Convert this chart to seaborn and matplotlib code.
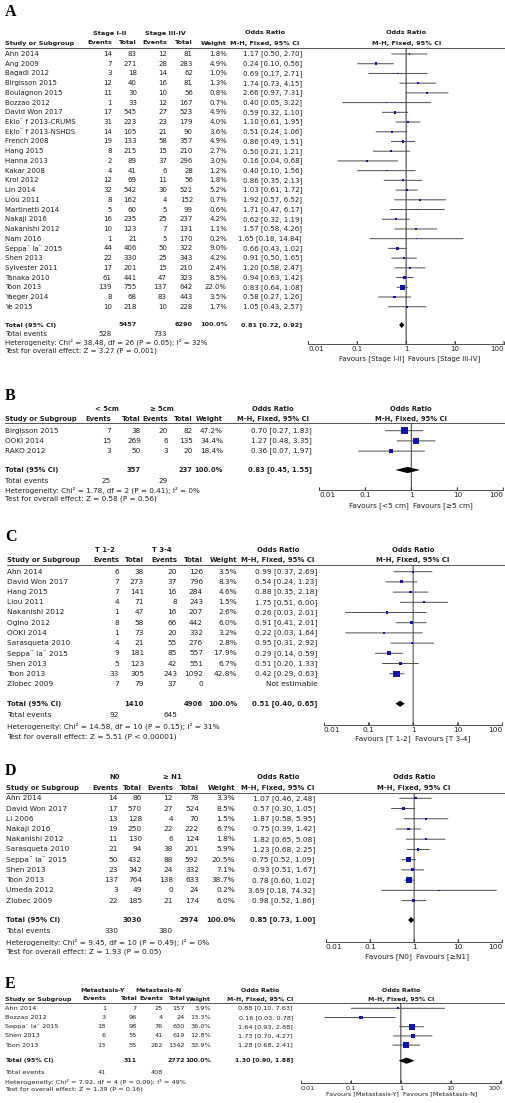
import numpy as np
import pandas as pd
import matplotlib
matplotlib.use("Agg")
import matplotlib.pyplot as plt
from matplotlib.ticker import FixedLocator, FixedFormatter, NullLocator
import seaborn as sns

sns.set_style("white")
plt.rcParams['font.family'] = ['DejaVu Sans']

W, H = 506, 1103

# ------------------------------------------------------------------ data
# Panel A : Stage I-II vs Stage III-IV
A_studies = ["Ahn 2014", "Ang 2009", "Bagadi 2012", "Birgisson 2015", "Boulagnon 2015",
             "Bozzao 2012", "David Won 2017", "Eklo\u00a8 f 2013-CRUMS", "Eklo\u00a8 f 2013-NSHDS",
             "French 2008", "Hang 2015", "Hanna 2013", "Kakar 2008", "Krol 2012", "Lin 2014",
             "Liou 2011", "Martinetti 2014", "Nakaji 2016", "Nakanishi 2012", "Nam 2016",
             "Seppa\u00a8 la\u00a8 2015", "Shen 2013", "Sylvester 2011", "Tanaka 2010", "Toon 2013",
             "Yaeger 2014", "Ye 2015"]
A_ev1 = [14, 7, 3, 12, 11, 1, 17, 31, 14, 19, 8, 2, 4, 12, 32, 8, 5, 16, 10, 1, 44, 22, 17, 61, 139, 8, 10]
A_tot1 = [83, 271, 18, 40, 30, 33, 545, 223, 105, 133, 215, 89, 41, 69, 542, 162, 60, 235, 123, 21, 406, 330, 201, 441, 755, 68, 218]
A_ev2 = [12, 28, 14, 16, 10, 12, 27, 23, 21, 58, 15, 37, 6, 11, 30, 4, 5, 25, 7, 5, 50, 25, 15, 47, 137, 83, 10]
A_tot2 = [81, 283, 62, 81, 56, 167, 523, 179, 90, 357, 210, 296, 28, 56, 521, 152, 99, 237, 131, 170, 322, 343, 210, 323, 642, 443, 228]
A_weight = [1.8, 4.9, 1.0, 1.3, 0.8, 0.7, 4.9, 4.0, 3.6, 4.9, 2.7, 3.0, 1.2, 1.8, 5.2, 0.7, 0.6, 4.2, 1.1, 0.2, 9.0, 4.2, 2.4, 8.5, 22.0, 3.5, 1.7]
A_or = [1.17, 0.24, 0.69, 1.74, 2.66, 0.40, 0.59, 1.10, 0.51, 0.86, 0.50, 0.16, 0.40, 0.86, 1.03, 1.92, 1.71, 0.62, 1.57, 1.65, 0.66, 0.91, 1.20, 0.94, 0.83, 0.58, 1.05]
A_lo = [0.50, 0.10, 0.17, 0.73, 0.97, 0.05, 0.32, 0.61, 0.24, 0.49, 0.21, 0.04, 0.10, 0.35, 0.61, 0.57, 0.47, 0.32, 0.58, 0.18, 0.43, 0.50, 0.58, 0.63, 0.64, 0.27, 0.43]
A_hi = [2.70, 0.56, 2.71, 4.15, 7.31, 3.22, 1.10, 1.95, 1.06, 1.51, 1.21, 0.68, 1.56, 2.13, 1.72, 6.52, 6.17, 1.19, 4.26, 14.84, 1.02, 1.65, 2.47, 1.42, 1.08, 1.26, 2.57]
A_groups = ["Stage I-II", "Stage III-IV"]
A_total_n = [5457, 6290]
A_total_or = [0.81, 0.72, 0.92]
A_total_events = [528, 733]
A_het = "Heterogeneity: Chi\u00b2 = 38.48, df = 26 (P = 0.05); I\u00b2 = 32%"
A_test = "Test for overall effect: Z = 3.27 (P = 0.001)"
A_favours = ["Favours [Stage I-II]", "Favours [Stage III-IV]"]

# Panel B : < 5cm vs >= 5cm
B_studies = ["Birgisson 2015", "OOKI 2014", "RAKO 2012"]
B_ev1 = [7, 15, 3]
B_tot1 = [38, 269, 50]
B_ev2 = [20, 6, 3]
B_tot2 = [82, 135, 20]
B_weight = [47.2, 34.4, 18.4]
B_or = [0.70, 1.27, 0.36]
B_lo = [0.27, 0.48, 0.07]
B_hi = [1.83, 3.35, 1.97]
B_groups = ["< 5cm", "\u2265 5cm"]
B_total_n = [357, 237]
B_total_or = [0.83, 0.45, 1.55]
B_total_events = [25, 29]
B_het = "Heterogeneity: Chi\u00b2 = 1.78, df = 2 (P = 0.41); I\u00b2 = 0%"
B_test = "Test for overall effect: Z = 0.58 (P = 0.56)"
B_favours = ["Favours [<5 cm]", "Favours [\u22655 cm]"]

# Panel C : T 1-2 vs T 3-4
C_studies = ["Ahn 2014", "David Won 2017", "Hang 2015", "Liou 2011", "Nakanishi 2012", "Ogino 2012",
             "OOKI 2014", "Sarasqueta 2010", "Seppa\u00a8 la\u00a8 2015", "Shen 2013", "Toon 2013", "Zlobec 2009"]
C_ev1 = [6, 7, 7, 4, 1, 8, 1, 4, 9, 5, 33, 7]
C_tot1 = [38, 273, 141, 71, 47, 58, 73, 21, 181, 123, 305, 79]
C_ev2 = [20, 37, 16, 8, 16, 66, 20, 55, 85, 42, 243, 37]
C_tot2 = [126, 796, 284, 243, 207, 442, 332, 276, 557, 551, 1092, 0]
C_weight = [3.5, 8.3, 4.6, 1.5, 2.6, 6.0, 3.2, 2.8, 17.9, 6.7, 42.8, np.nan]
C_or = [0.99, 0.54, 0.88, 1.75, 0.26, 0.91, 0.22, 0.95, 0.29, 0.51, 0.42, np.nan]
C_lo = [0.37, 0.24, 0.35, 0.51, 0.03, 0.41, 0.03, 0.31, 0.14, 0.20, 0.29, np.nan]
C_hi = [2.69, 1.23, 2.18, 6.00, 2.01, 2.01, 1.64, 2.92, 0.59, 1.33, 0.63, np.nan]
C_groups = ["T 1-2", "T 3-4"]
C_total_n = [1410, 4906]
C_total_or = [0.51, 0.40, 0.65]
C_total_events = [92, 645]
C_het = "Heterogeneity: Chi\u00b2 = 14.58, df = 10 (P = 0.15); I\u00b2 = 31%"
C_test = "Test for overall effect: Z = 5.51 (P < 0.00001)"
C_favours = ["Favours [T 1-2]", "Favours [T 3-4]"]

# Panel D : N0 vs >= N1
D_studies = ["Ahn 2014", "David Won 2017", "Li 2006", "Nakaji 2016", "Nakanishi 2012", "Sarasqueta 2010",
             "Seppa\u00a8 la\u00a8 2015", "Shen 2013", "Toon 2013", "Umeda 2012", "Zlobec 2009"]
D_ev1 = [14, 17, 13, 19, 11, 21, 50, 23, 137, 3, 22]
D_tot1 = [86, 570, 128, 250, 130, 94, 432, 342, 764, 49, 185]
D_ev2 = [12, 27, 4, 22, 6, 38, 88, 24, 138, 0, 21]
D_tot2 = [78, 524, 70, 222, 124, 201, 592, 332, 633, 24, 174]
D_weight = [3.3, 8.5, 1.5, 6.7, 1.8, 5.9, 20.5, 7.1, 38.7, 0.2, 6.0]
D_or = [1.07, 0.57, 1.87, 0.75, 1.82, 1.23, 0.75, 0.93, 0.78, 3.69, 0.98]
D_lo = [0.46, 0.30, 0.58, 0.39, 0.65, 0.68, 0.52, 0.51, 0.60, 0.18, 0.52]
D_hi = [2.48, 1.05, 5.95, 1.42, 5.08, 2.25, 1.09, 1.67, 1.02, 74.32, 1.86]
D_groups = ["N0", "\u2265 N1"]
D_total_n = [3030, 2974]
D_total_or = [0.85, 0.73, 1.00]
D_total_events = [330, 380]
D_het = "Heterogeneity: Chi\u00b2 = 9.45, df = 10 (P = 0.49); I\u00b2 = 0%"
D_test = "Test for overall effect: Z = 1.93 (P = 0.05)"
D_favours = ["Favours [N0]", "Favours [\u2265N1]"]

# Panel E : Metastasis-Y vs Metastasis-N
E_studies = ["Ahn 2014", "Bozzao 2012", "Seppa\u00a8 la\u00a8 2015", "Shen 2013", "Toon 2013"]
E_ev1 = [1, 3, 18, 6, 13]
E_tot1 = [7, 96, 98, 55, 55]
E_ev2 = [25, 4, 76, 41, 262]
E_tot2 = [157, 24, 630, 619, 1342]
E_weight = [3.9, 13.3, 36.0, 12.8, 33.9]
E_or = [0.88, 0.16, 1.64, 1.73, 1.28]
E_lo = [0.10, 0.03, 0.93, 0.70, 0.68]
E_hi = [7.63, 0.78, 2.88, 4.27, 2.41]
E_groups = ["Metastasis-Y", "Metastasis-N"]
E_total_n = [311, 2772]
E_total_or = [1.30, 0.90, 1.88]
E_total_events = [41, 408]
E_het = "Heterogeneity: Chi\u00b2 = 7.92, df = 4 (P = 0.09); I\u00b2 = 49%"
E_test = "Test for overall effect: Z = 1.39 (P = 0.16)"
E_favours = ["Favours [Metastasis-Y]", "Favours [Metastasis-N]"]

tick_vals = [0.01, 0.1, 1, 10, 100]
tick_labels = ["0.01", "0.1", "1", "10", "100"]

# ------------------------------------------------------------------ layout (pixels)
LAYOUT = {
    'A': dict(lab=12, h1=33, h2=43, line=48, row0=54, dy=9.72, total=325, tev=333.5, het=342.5,
              test=350.5, axis=343.5, fav=358.5, xt=5, ev1=112, tot1=137, ev2=167, tot2=193,
              wt=227, orr=302, orc=265, g1=110, g2=165, x0=308.3, x1=504, fs=5.0, bf=0.93),
    'B': dict(lab=396, h1=409, h2=419.3, line=423.3, row0=430.7, dy=10.2, total=470, tev=481,
              het=490, test=498.7, axis=490, fav=506, xt=5, ev1=111, tot1=141, ev2=168, tot2=193,
              wt=223, orr=312, orc=273, g1=107, g2=162, x0=319.3, x1=503.3, fs=5.2, bf=0.93),
    'C': dict(lab=537, h1=550, h2=560, line=565, row0=571.7, dy=10.2, total=703.7, tev=715,
              het=726.7, test=736.7, axis=725, fav=738.3, xt=7, ev1=119, tot1=144, ev2=177,
              tot2=203, wt=237, orr=317.7, orc=278, g1=105, g2=162, x0=324, x1=502.3, fs=5.3, bf=0.93),
    'D': dict(lab=771, h1=777, h2=788.3, line=793.3, row0=798.3, dy=10.23, total=920, tev=931.3,
              het=942, test=952, axis=941.7, fav=956.7, xt=6, ev1=118, tot1=142, ev2=173,
              tot2=199, wt=235, orr=315, orc=278, g1=115, g2=172, x0=326, x1=502.3, fs=5.3, bf=0.93),
    'E': dict(lab=984, h1=990, h2=999, line=1003.3, row0=1008.3, dy=9.2, total=1060.7, tev=1072.7,
              het=1082.3, test=1090, axis=1083.3, fav=1094, xt=5, ev1=106, tot1=137, ev2=163,
              tot2=185, wt=211, orr=293, orc=260, g1=103, g2=159, x0=301, x1=500.7, fs=4.65, bf=0.97),
}

TXT = '#1e1e1e'
LINE = '#555555'
BLUE = '#1414a0'

fig = plt.figure(figsize=(W / 100, H / 100), dpi=100)
ov = fig.add_axes([0, 0, 1, 1])
ov.set_xlim(0, W)
ov.set_ylim(H, 0)
ov.axis('off')


def t(x, y, s, ha='left', bold=False, fs=5.0, bf=0.93, **kw):
    ov.text(x, y, s, ha=ha, va='center', fontsize=fs * (bf if bold else 1.0), color=TXT,
            fontweight='bold' if bold else 'normal', **kw)


def fmt_or(o, l, h):
    return f"{o:.2f} [{l:.2f}, {h:.2f}]"


def draw_panel(key, studies, ev1, tot1, ev2, tot2, weight, orv, lo, hi,
               groups, total_n, total_or, total_events, het, test, favours):
    L = LAYOUT[key]
    fs = L['fs']
    bf = L['bf']
    pc = (L['x0'] + L['x1']) / 2
    # panel letter
    ov.text(5, L['lab'], key, ha='left', va='center', fontsize=11.5, fontweight='bold',
            family='Liberation Serif', color='black')
    # headers
    t(L['g1'], L['h1'], groups[0], 'center', True, fs, bf)
    t(L['g2'], L['h1'], groups[1], 'center', True, fs, bf)
    t(L['orc'], L['h1'], "Odds Ratio", 'center', True, fs, bf)
    t(pc, L['h1'], "Odds Ratio", 'center', True, fs, bf)
    t(L['xt'], L['h2'], "Study or Subgroup", 'left', True, fs, bf)
    for col, lab in [('ev1', 'Events'), ('tot1', 'Total'), ('ev2', 'Events'),
                     ('tot2', 'Total'), ('wt', 'Weight')]:
        t(L[col], L['h2'], lab, 'right', True, fs, bf)
    t(L['orc'], L['h2'], "M-H, Fixed, 95% CI", 'center', True, fs, bf)
    t(pc, L['h2'], "M-H, Fixed, 95% CI", 'center', True, fs, bf)
    ov.plot([L['xt'], W], [L['line'], L['line']], color=LINE, lw=0.7)

    ys = [L['row0'] + i * L['dy'] for i in range(len(studies))]
    for i, y in enumerate(ys):
        t(L['xt'], y, studies[i], 'left', False, fs)
        t(L['ev1'], y, str(ev1[i]), 'right', False, fs)
        t(L['tot1'], y, str(tot1[i]), 'right', False, fs)
        t(L['ev2'], y, str(ev2[i]), 'right', False, fs)
        t(L['tot2'], y, str(tot2[i]), 'right', False, fs)
        if np.isnan(orv[i]):
            t(L['orr'], y, "Not estimable", 'right', False, fs)
        else:
            t(L['wt'], y, f"{weight[i]:.1f}%", 'right', False, fs)
            t(L['orr'], y, fmt_or(orv[i], lo[i], hi[i]), 'right', False, fs)
    # totals
    t(L['xt'], L['total'], "Total (95% CI)", 'left', True, fs, bf)
    t(L['tot1'], L['total'], str(total_n[0]), 'right', True, fs, bf)
    t(L['tot2'], L['total'], str(total_n[1]), 'right', True, fs, bf)
    t(L['wt'], L['total'], "100.0%", 'right', True, fs, bf)
    t(L['orr'], L['total'], fmt_or(*total_or), 'right', True, fs, bf)
    t(L['xt'], L['tev'], "Total events", 'left', False, fs)
    t(L['ev1'], L['tev'], str(total_events[0]), 'right', False, fs)
    t(L['ev2'], L['tev'], str(total_events[1]), 'right', False, fs)
    t(L['xt'], L['het'], het, 'left', False, fs)
    t(L['xt'], L['test'], test, 'left', False, fs)

    # forest axes: y data == pixel rows, x on the library's log scale
    ax = fig.add_axes([L['x0'] / W, 1 - L['axis'] / H, (L['x1'] - L['x0']) / W,
                       (L['axis'] - L['line']) / H])
    ax.patch.set_alpha(0)
    ax.set_xscale('log')
    df = pd.DataFrame({'OR': orv, 'lo': lo, 'hi': hi, 'y': ys, 'w': weight}).dropna()
    # line of no effect
    ax.axvspan(1 / 1.024, 1.024, color='#333333', linewidth=0, snap=False, zorder=1)
    # confidence intervals as thin horizontal bars from lo to hi
    ax.barh(df['y'], df['hi'] - df['lo'], left=df['lo'], height=1.0, color='#505050',
            linewidth=0, edgecolor='none', snap=False, zorder=2)
    sns.scatterplot(data=df, x='OR', y='y', size='w', sizes=(0.9, 48), size_norm=(0, 100),
                    marker='s', color=BLUE, linewidth=0, legend=False, ax=ax, zorder=5)
    o, l, h = total_or
    yt = L['total']
    ax.fill([l, o, h, o], [yt, yt - 3.1, yt, yt + 3.1], color='black', lw=0, zorder=6)
    ax.set_xlim(0.01, 100)
    ax.set_ylim(L['axis'], L['line'])
    # small upward tick marks at the decades
    tick_h = 2.5
    for v in tick_vals:
        ax.bar(v, tick_h, bottom=L['axis'] - tick_h, width=v * 0.045, color='#333333',
               linewidth=0, edgecolor='none', snap=False, zorder=3)
    for s in ['top', 'left', 'right']:
        ax.spines[s].set_visible(False)
    ax.spines['bottom'].set_linewidth(0.6)
    ax.spines['bottom'].set_color('#333333')
    ax.xaxis.set_major_locator(FixedLocator(tick_vals))
    ax.xaxis.set_major_formatter(FixedFormatter(tick_labels))
    ax.xaxis.set_minor_locator(NullLocator())
    ax.tick_params(axis='x', which='major', bottom=True, direction='in', length=2.2, width=0.6,
                   pad=1.6, labelsize=fs, colors='#333333', labelcolor=TXT)
    ax.set_yticks([])
    ax.set_xlabel('')
    ax.set_ylabel('')
    labs = ax.xaxis.get_majorticklabels()
    labs[0].set_ha('left')
    labs[-1].set_ha('right')
    ax.annotate(favours[0], xy=(1, L['fav']), xytext=(-1.5, 0), textcoords='offset points',
                ha='right', va='center', fontsize=fs, color=TXT, annotation_clip=False)
    ax.annotate(favours[1], xy=(1, L['fav']), xytext=(1.5, 0), textcoords='offset points',
                ha='left', va='center', fontsize=fs, color=TXT, annotation_clip=False)


draw_panel('A', A_studies, A_ev1, A_tot1, A_ev2, A_tot2, A_weight, A_or, A_lo, A_hi,
           A_groups, A_total_n, A_total_or, A_total_events, A_het, A_test, A_favours)
draw_panel('B', B_studies, B_ev1, B_tot1, B_ev2, B_tot2, B_weight, B_or, B_lo, B_hi,
           B_groups, B_total_n, B_total_or, B_total_events, B_het, B_test, B_favours)
draw_panel('C', C_studies, C_ev1, C_tot1, C_ev2, C_tot2, C_weight, C_or, C_lo, C_hi,
           C_groups, C_total_n, C_total_or, C_total_events, C_het, C_test, C_favours)
draw_panel('D', D_studies, D_ev1, D_tot1, D_ev2, D_tot2, D_weight, D_or, D_lo, D_hi,
           D_groups, D_total_n, D_total_or, D_total_events, D_het, D_test, D_favours)
draw_panel('E', E_studies, E_ev1, E_tot1, E_ev2, E_tot2, E_weight, E_or, E_lo, E_hi,
           E_groups, E_total_n, E_total_or, E_total_events, E_het, E_test, E_favours)

fig.savefig('out.png', dpi=100)
